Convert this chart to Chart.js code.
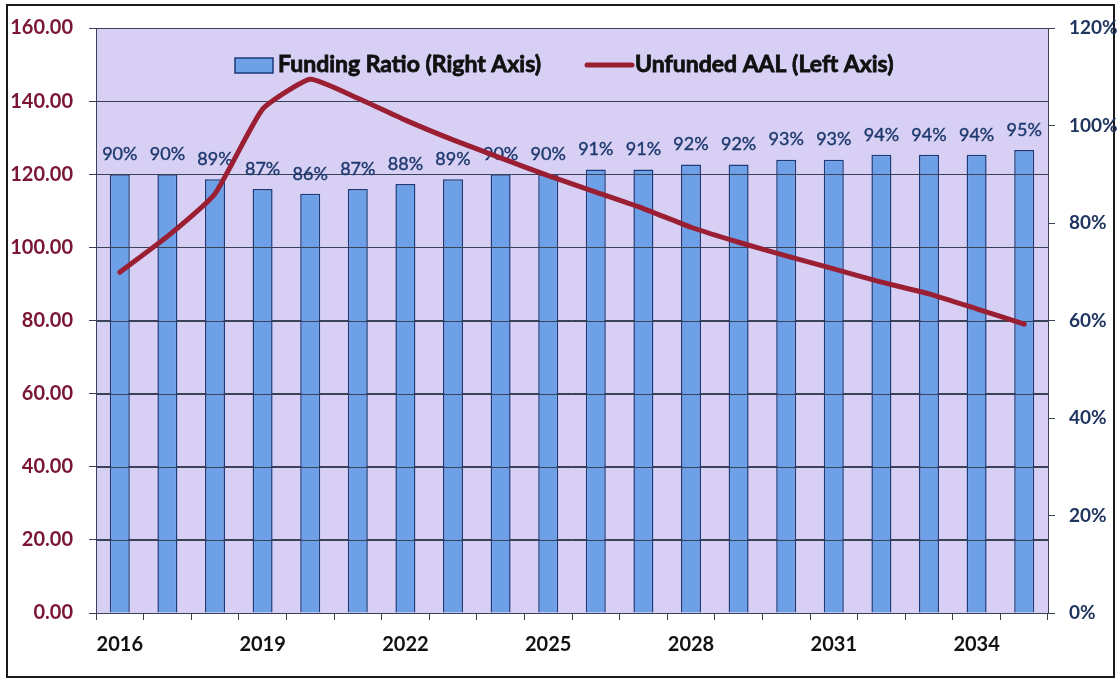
<!DOCTYPE html>
<html>
<head>
<meta charset="utf-8">
<script src="https://cdn.jsdelivr.net/npm/chart.js@4.4.1/dist/chart.umd.min.js"></script>
<style>
  html, body { margin: 0; padding: 0; background: #ffffff; }
  #wrap { position: relative; width: 1118px; height: 679px; }
  #frame { position: absolute; left: 6px; top: 4px; width: 1105px; height: 670px; border: 2px solid #1a1a1a; box-sizing: content-box; }
  #chart { position: absolute; left: 0; top: 0; }
</style>
</head>
<body>
<div id="wrap">
  <div id="frame"></div>
  <canvas id="chart" width="1118" height="679"></canvas>
</div>
<script>
// Projection years
const years = ['2016','2017','2018','2019','2020','2021','2022','2023','2024','2025',
               '2026','2027','2028','2029','2030','2031','2032','2033','2034','2035'];

// Funding ratio (right axis), as fractions
const fundingRatio = [0.90,0.90,0.89,0.87,0.86,0.87,0.88,0.89,0.90,0.90,
                      0.91,0.91,0.92,0.92,0.93,0.93,0.94,0.94,0.94,0.95];

// Unfunded actuarial accrued liability (left axis)
const unfundedAAL = [93.2,103.0,114.7,137.8,146.0,140.8,134.8,129.4,124.5,119.6,
                     115.1,110.6,105.5,101.4,97.7,94.1,90.5,87.3,83.2,79.0];

const leftTicks = { min: 0, max: 160, step: 20 };
const rightTicks = { min: 0, max: 1.2, step: 0.2 };

const FONT = 'Lato, "Open Sans", "DejaVu Sans", sans-serif';
const BAR_FILL = '#6ea0e8';
const BAR_EDGE = '#1c3a78';
const LINE_RED = '#9b1f33';
const GRID = '#3a4258';
const PLOT_BG = '#d8d0f4';

// Plot background
const plotBackground = {
  id: 'plotBackground',
  beforeDraw(chart) {
    const { ctx, chartArea: a } = chart;
    ctx.save();
    ctx.fillStyle = PLOT_BG;
    ctx.fillRect(a.left, a.top, a.right - a.left, a.bottom - a.top);
    ctx.restore();
  }
};

// Horizontal grid lines stay visible across the bars; value labels above bars
const barOverlay = {
  id: 'barOverlay',
  afterDatasetDraw(chart, args) {
    if (args.index !== 0) return;
    const { ctx, chartArea: a } = chart;
    const ys = chart.scales.y;
    ctx.save();
    ctx.strokeStyle = GRID;
    ctx.lineWidth = 1;
    ys.ticks.forEach(t => {
      const py = Math.round(ys.getPixelForValue(t.value)) + 0.5;
      ctx.beginPath();
      ctx.moveTo(a.left, py);
      ctx.lineTo(a.right, py);
      ctx.stroke();
    });
    ctx.fillStyle = '#1f3a6e';
    ctx.strokeStyle = '#1f3a6e';
    ctx.lineWidth = 0.4;
    ctx.font = '18px ' + FONT;
    ctx.textAlign = 'center';
    ctx.textBaseline = 'middle';
    args.meta.data.forEach((bar, i) => {
      const txt = Math.round(fundingRatio[i] * 100) + '%';
      ctx.fillText(txt, bar.x, bar.y - 20);
      ctx.strokeText(txt, bar.x, bar.y - 20);
    });
    ctx.restore();
  }
};

// Legend drawn inside the plot area
const innerLegend = {
  id: 'innerLegend',
  afterDatasetsDraw(chart) {
    const { ctx, chartArea: a } = chart;
    const cy = a.top + 37;
    ctx.save();
    let x = a.left + 139;
    ctx.fillStyle = BAR_FILL;
    ctx.strokeStyle = BAR_EDGE;
    ctx.lineWidth = 1.5;
    ctx.fillRect(x, cy - 7, 38, 15);
    ctx.strokeRect(x, cy - 7, 38, 15);
    ctx.font = 'bold 23px ' + FONT;
    ctx.textAlign = 'left';
    ctx.textBaseline = 'middle';
    const drawLabel = (txt, tx) => {
      ctx.fillStyle = '#111111';
      ctx.strokeStyle = '#111111';
      ctx.lineWidth = 0.8;
      ctx.fillText(txt, tx, cy);
      ctx.strokeText(txt, tx, cy);
    };
    drawLabel(chart.data.datasets[0].label, x + 43);
    x = a.left + 491;
    ctx.strokeStyle = LINE_RED;
    ctx.lineWidth = 5;
    ctx.lineCap = 'round';
    ctx.beginPath();
    ctx.moveTo(x, cy);
    ctx.lineTo(x + 45, cy);
    ctx.stroke();
    drawLabel(chart.data.datasets[1].label, x + 48);
    ctx.restore();
  }
};

new Chart(document.getElementById('chart'), {
  data: {
    labels: years,
    datasets: [
      {
        type: 'bar',
        label: 'Funding Ratio (Right Axis)',
        data: fundingRatio,
        yAxisID: 'y1',
        backgroundColor: BAR_FILL,
        borderColor: BAR_EDGE,
        borderWidth: 1.5,
        borderSkipped: 'bottom',
        barPercentage: 0.84,
        categoryPercentage: 0.5,
        order: 2
      },
      {
        type: 'line',
        label: 'Unfunded AAL (Left Axis)',
        data: unfundedAAL,
        yAxisID: 'y',
        borderColor: LINE_RED,
        borderWidth: 5,
        pointRadius: 0,
        tension: 0.15,
        borderCapStyle: 'round',
        borderJoinStyle: 'round',
        fill: false,
        order: 1
      }
    ]
  },
  options: {
    responsive: false,
    animation: false,
    layout: { padding: { top: 27, left: 0, right: 0, bottom: 0 } },
    plugins: {
      legend: { display: false },
      tooltip: { enabled: false }
    },
    scales: {
      x: {
        offset: true,
        grid: { offset: true, drawOnChartArea: false, drawTicks: true, tickLength: 7, color: GRID },
        border: { display: true, color: GRID, width: 1 },
        ticks: {
          autoSkip: false,
          maxRotation: 0,
          padding: 13,
          color: '#111111',
          font: { family: FONT, size: 20, weight: 'bold' },
          callback: (v, i) => (i % 3 === 0 ? years[i] : '')
        },
        afterFit: s => { s.height = 66; }
      },
      y: {
        position: 'left',
        min: leftTicks.min,
        max: leftTicks.max,
        ticks: {
          stepSize: leftTicks.step,
          padding: 16,
          color: '#7a1533',
          font: { family: FONT, size: 20, weight: 'bold' },
          callback: v => Number(v).toFixed(2)
        },
        grid: { color: GRID, lineWidth: 1, tickLength: 7, drawTicks: true },
        border: { display: true, color: GRID, width: 1 },
        afterFit: s => { s.width = 96; }
      },
      y1: {
        position: 'right',
        min: rightTicks.min,
        max: rightTicks.max,
        ticks: {
          stepSize: rightTicks.step,
          padding: 14,
          color: '#1f3560',
          font: { family: FONT, size: 19, weight: 'bold' },
          callback: v => Math.round(v * 100) + '%'
        },
        grid: { drawOnChartArea: false, drawTicks: true, tickLength: 7, color: GRID },
        border: { display: true, color: GRID, width: 1 },
        afterFit: s => { s.width = 70; }
      }
    }
  },
  plugins: [plotBackground, barOverlay, innerLegend]
});
</script>
</body>
</html>
